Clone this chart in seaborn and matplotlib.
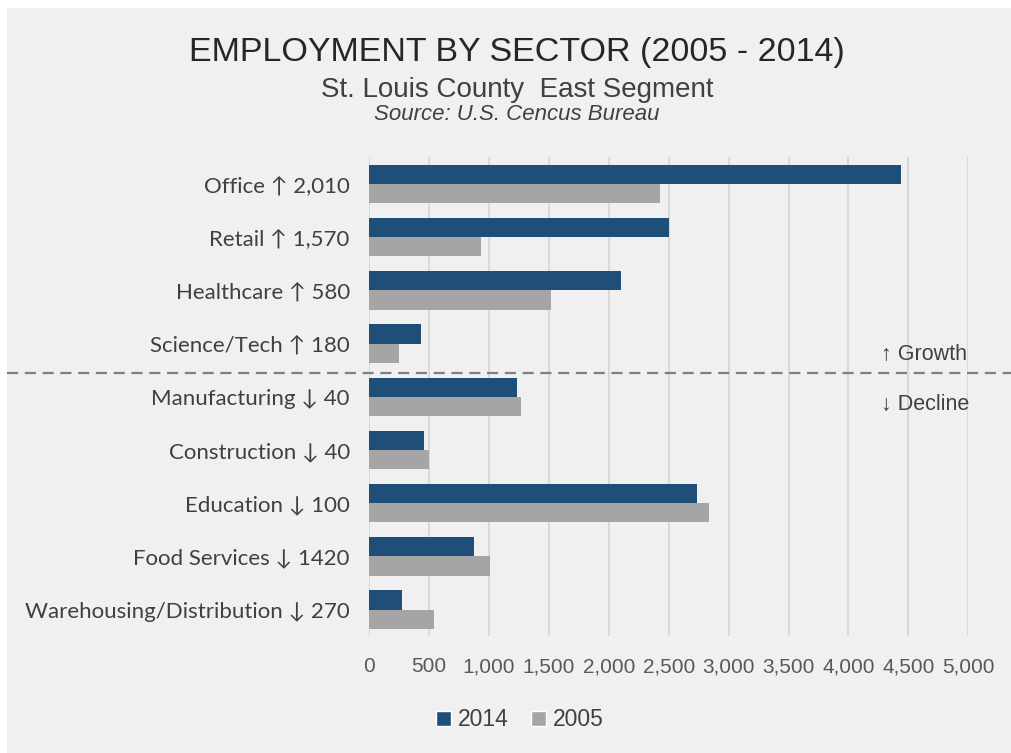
import matplotlib
matplotlib.use("Agg")
import matplotlib.pyplot as plt
import matplotlib.transforms as mtransforms
from matplotlib.patches import Rectangle
from matplotlib.ticker import FuncFormatter, MultipleLocator
import pandas as pd
import seaborn as sns

# Employment by sector, St. Louis County East Segment
sectors = ["Office", "Retail", "Healthcare", "Science/Tech", "Manufacturing",
           "Construction", "Education", "Food Services", "Warehousing/Distribution"]
directions = ["↑", "↑", "↑", "↑", "↓", "↓", "↓", "↓", "↓"]
change_labels = ["2,010", "1,570", "580", "180", "40", "40", "100", "1420", "270"]
emp_2014 = [4440, 2500, 2100, 430, 1230, 455, 2740, 875, 270]
emp_2005 = [2430, 930, 1520, 250, 1270, 495, 2840, 1010, 540]
years = ["2014", "2005"]

NAVY = "#1F4E79"
GREY = "#A5A5A5"
BG = "#F0F0F0"

labels = [f"{s} {d} {c}" for s, d, c in zip(sectors, directions, change_labels)]
df = pd.DataFrame({
    "label": labels * 2,
    "employees": emp_2014 + emp_2005,
    "year": [years[0]] * len(labels) + [years[1]] * len(labels),
})

sns.set_theme(style="white")
NARROW = ["Liberation Sans Narrow", "Liberation Sans", "DejaVu Sans"]
LABEL_FONT = ["Lato", "DejaVu Sans"]
plt.rcParams["font.family"] = NARROW

W, H = 1012, 753
fig = plt.figure(figsize=(W / 100, H / 100), dpi=100)
fig.patch.set_facecolor("white")
fig.patches.append(Rectangle((7 / W, 0), 1 - 7 / W, (H - 8) / H,
                             transform=fig.transFigure, facecolor=BG,
                             edgecolor="none", zorder=-10))

ax = fig.add_axes([369.2 / W, 1 - 636.2 / H, (968.2 - 369.2) / W, (636.2 - 157.4) / H])
ax.set_facecolor("none")

sns.barplot(data=df, y="label", x="employees", hue="year", orient="h",
            palette={years[0]: NAVY, years[1]: GREY}, width=0.72,
            linewidth=0, saturation=1, ax=ax, legend=False, zorder=3)

ax.set_xlim(0, 5000)
ax.set_ylim(len(labels) - 0.5, -0.5)
ax.xaxis.set_major_locator(MultipleLocator(500))
ax.xaxis.set_major_formatter(FuncFormatter(lambda v, p: f"{int(v):,}"))
ax.grid(axis="x", color="#D9D9D9", linewidth=1.5, zorder=0)
ax.grid(axis="y", visible=False)
for sp in ax.spines.values():
    sp.set_visible(False)
ax.set_xlabel("")
ax.set_ylabel("")
ax.tick_params(axis="x", length=0, pad=15, labelsize=15, labelcolor="#595959")
ax.tick_params(axis="y", length=0, pad=14, labelsize=16, labelcolor="#404040")
for t in ax.get_yticklabels():
    t.set_fontfamily(LABEL_FONT)

# Divider between growing and declining sectors
blend = mtransforms.blended_transform_factory(fig.transFigure, ax.transData)
ax.plot([7 / W, 1.0], [3.55, 3.55], transform=blend, clip_on=False,
        color="#7F7F7F", linewidth=1.6, linestyle=(0, (5, 3)), zorder=4)
ax.text(4270, 3.2, "↑ Growth", ha="left", va="center", fontsize=15.5,
        color="#404040", family=["Liberation Sans", "DejaVu Sans"])
ax.text(4270, 4.15, "↓ Decline", ha="left", va="center", fontsize=15.5,
        color="#404040", family=["Liberation Sans", "DejaVu Sans"])

# Titles
cx = 517 / W
fig.text(cx, 1 - 52 / H, "EMPLOYMENT BY SECTOR (2005 - 2014)", ha="center",
         va="center", fontsize=24.5, color="#262626")
fig.text(cx, 1 - 90 / H, "St. Louis County  East Segment", ha="center",
         va="center", fontsize=20, color="#404040")
fig.text(cx, 1 - 114 / H, "Source: U.S. Cencus Bureau", ha="center",
         va="center", fontsize=16, style="italic", color="#404040")

# Legend
handles = [Rectangle((0, 0), 1, 1, facecolor=NAVY), Rectangle((0, 0), 1, 1, facecolor=GREY)]
fig.legend(handles, years, loc="center", bbox_to_anchor=(520 / W, 1 - 720 / H),
           ncol=2, frameon=False, fontsize=16.5, handlelength=0.65,
           handleheight=0.65, handletextpad=0.3, columnspacing=1.0,
           labelcolor="#404040")

fig.savefig("out.png", dpi=100, facecolor=fig.get_facecolor())
